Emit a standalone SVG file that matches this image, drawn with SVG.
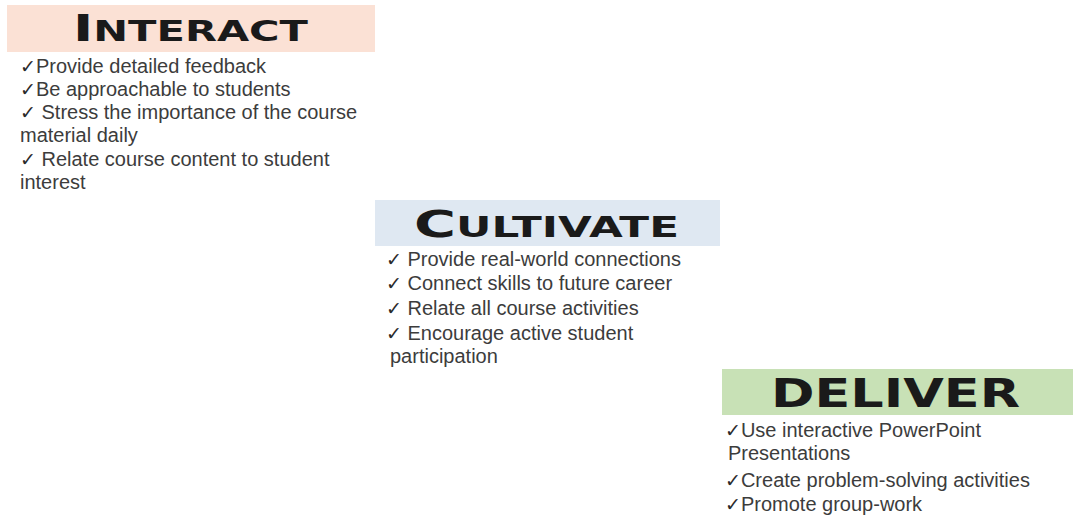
<svg xmlns="http://www.w3.org/2000/svg" width="1073" height="516" viewBox="0 0 1073 516">
<style>
.title{font-family:"DejaVu Sans","Liberation Sans",sans-serif;font-weight:bold;fill:#1a1a1a}
.body{font-family:"Liberation Sans",Arial,sans-serif;font-size:20px;fill:#3c3c3c}
.ck{font-family:"DejaVu Sans",sans-serif;font-size:19px;fill:#2a2a2a}
</style>
<rect width="1073" height="516" fill="#ffffff"/>
<g id="interact">
<rect x="7" y="5" width="368" height="47" fill="#fbe1d5"/>
<text class="title" x="73" y="41" textLength="235" lengthAdjust="spacingAndGlyphs"><tspan font-size="38">I</tspan><tspan font-size="29">NTERACT</tspan></text>
<text class="body" x="20" y="73"><tspan class="ck">✓</tspan>Provide detailed feedback</text>
<text class="body" x="20" y="96"><tspan class="ck">✓</tspan>Be approachable to students</text>
<text class="body" x="20" y="119"><tspan class="ck">✓</tspan> Stress the importance of the course</text>
<text class="body" x="20" y="142">material daily</text>
<text class="body" x="20" y="166"><tspan class="ck">✓</tspan> Relate course content to student</text>
<text class="body" x="20" y="189">interest</text>
</g>
<g id="cultivate">
<rect x="375" y="200" width="345" height="46" fill="#dfe8f2"/>
<text class="title" x="414" y="237" textLength="265" lengthAdjust="spacingAndGlyphs"><tspan font-size="38">C</tspan><tspan font-size="29">ULTIVATE</tspan></text>
<text class="body" x="386" y="266"><tspan class="ck">✓</tspan> Provide real-world connections</text>
<text class="body" x="386" y="290"><tspan class="ck">✓</tspan> Connect skills to future career</text>
<text class="body" x="386" y="315"><tspan class="ck">✓</tspan> Relate all course activities</text>
<text class="body" x="386" y="340"><tspan class="ck">✓</tspan> Encourage active student</text>
<text class="body" x="390" y="363">participation</text>
</g>
<g id="deliver">
<rect x="722" y="369" width="351" height="46" fill="#c8e1b6"/>
<text class="title" x="771" y="407" font-size="39" textLength="249" lengthAdjust="spacingAndGlyphs">DELIVER</text>
<text class="body" x="725" y="437"><tspan class="ck">✓</tspan>Use interactive PowerPoint</text>
<text class="body" x="728" y="460">Presentations</text>
<text class="body" x="725" y="487"><tspan class="ck">✓</tspan>Create problem-solving activities</text>
<text class="body" x="725" y="511"><tspan class="ck">✓</tspan>Promote group-work</text>
</g>
</svg>
